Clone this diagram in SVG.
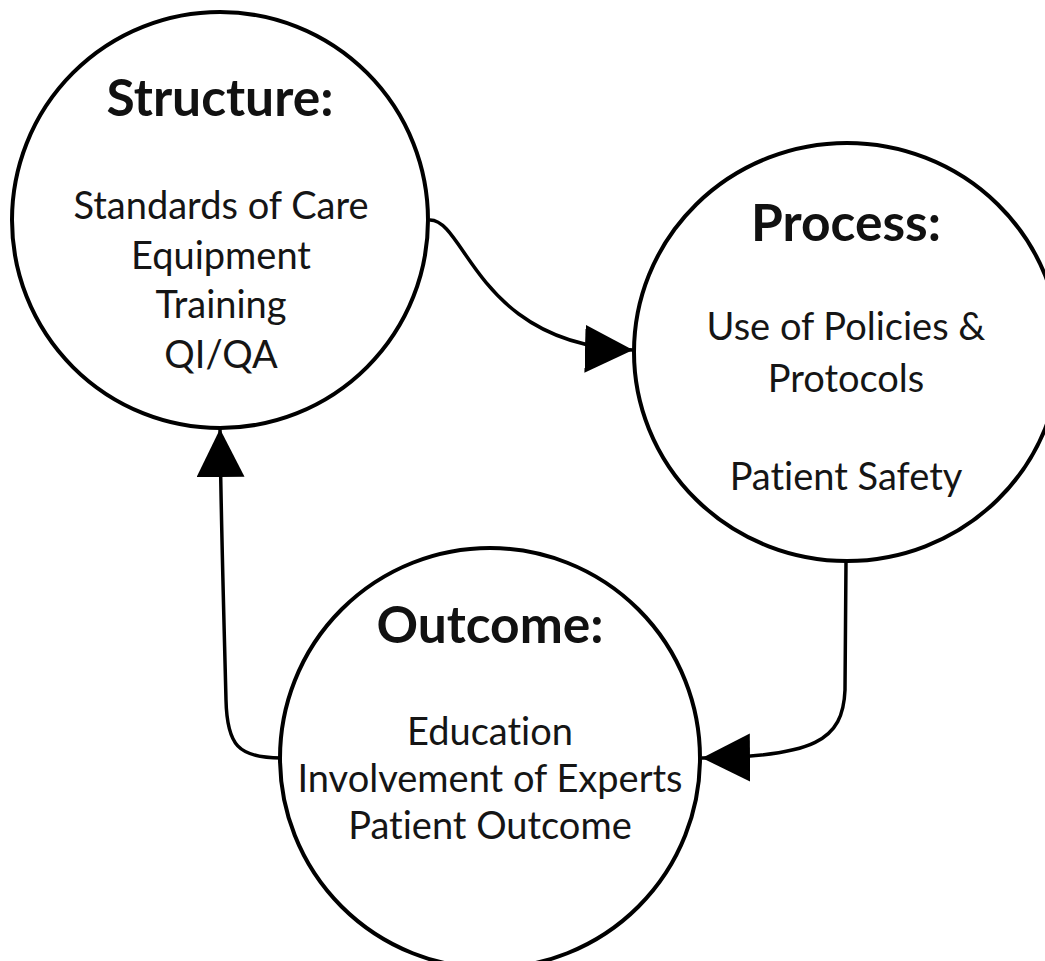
<svg xmlns="http://www.w3.org/2000/svg" width="1045" height="961" viewBox="0 0 1045 961">
  <style>
    .node { fill: #ffffff; stroke: #000000; stroke-width: 4; }
    .head { font-family: Lato, "Open Sans", "Liberation Sans", sans-serif; font-weight: bold; font-size: 51.5px; fill: #111111; text-anchor: middle; font-variant-ligatures: none; }
    .body { font-family: Lato, "Open Sans", "Liberation Sans", sans-serif; font-size: 38px; fill: #151515; text-anchor: middle; font-variant-ligatures: none; }
    .link { fill: none; stroke: #000000; stroke-width: 3.5; }
  </style>
  <defs>
    <marker id="arrow" markerUnits="userSpaceOnUse" markerWidth="50" markerHeight="50" refX="48" refY="24" orient="auto">
      <path d="M0,0 L48,24 L0,48 Z" fill="#000000"/>
    </marker>
  </defs>
  <rect width="1045" height="961" fill="#ffffff"/>

  <!-- connectors -->
  <g id="connectors">
    <path class="link" d="M430,220 C466,220 478,346 633,350" marker-end="url(#arrow)"/>
    <path class="link" d="M846,561 L845,690 C843,740 815,757 702,758" marker-end="url(#arrow)"/>
    <path class="link" d="M281,758 C238,758 227,745 226,700 C224,620 221,520 220,429" marker-end="url(#arrow)"/>
  </g>

  <!-- Structure -->
  <g id="structure">
    <circle class="node" cx="220" cy="220" r="208"/>
    <text class="head" x="220" y="116">Structure:</text>
    <text class="body" x="221" y="219">Standards of Care</text>
    <text class="body" x="221" y="269">Equipment</text>
    <text class="body" x="221" y="318">Training</text>
    <text class="body" x="221" y="368">QI/QA</text>
  </g>

  <!-- Process -->
  <g id="process">
    <ellipse class="node" cx="847" cy="352" rx="213" ry="209"/>
    <text class="head" x="846" y="241">Process:</text>
    <text class="body" x="846" y="340">Use of Policies &amp;</text>
    <text class="body" x="846" y="392">Protocols</text>
    <text class="body" x="846" y="490">Patient Safety</text>
  </g>

  <!-- Outcome -->
  <g id="outcome">
    <circle class="node" cx="490" cy="758" r="210"/>
    <text class="head" x="490" y="643">Outcome:</text>
    <text class="body" x="490" y="745">Education</text>
    <text class="body" x="490" y="792">Involvement of Experts</text>
    <text class="body" x="490" y="839">Patient Outcome</text>
  </g>
</svg>
